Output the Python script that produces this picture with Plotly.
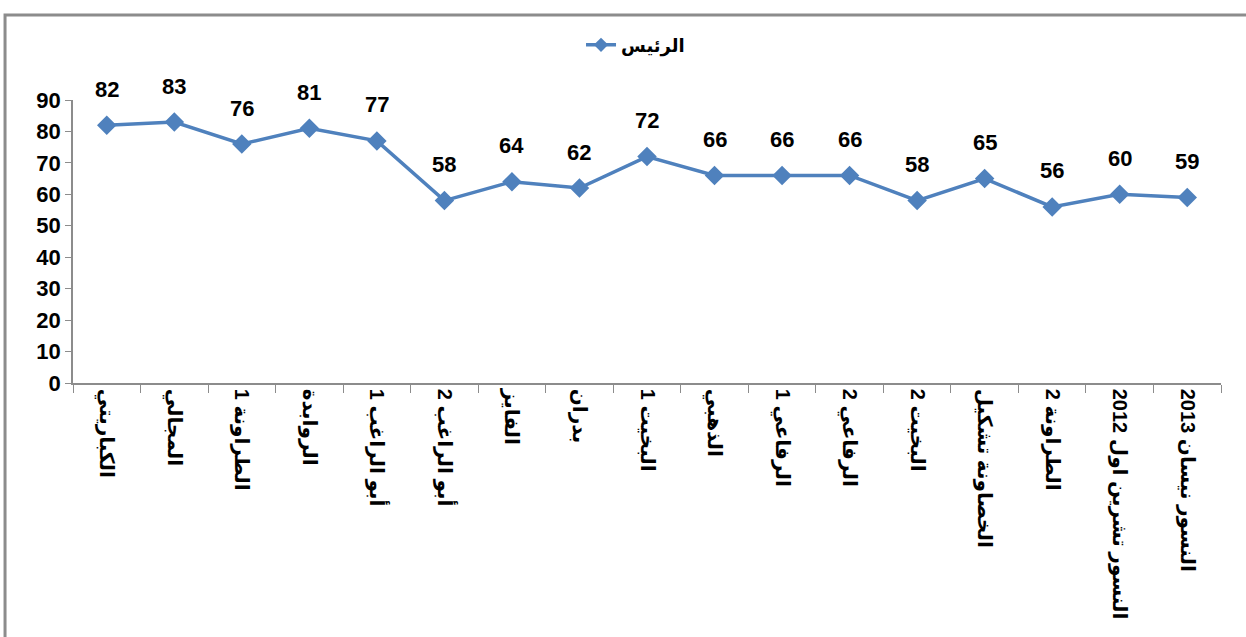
import plotly.graph_objects as go

categories = [
    "الكباريتي", "المجالي", "الطراونة 1", "الروابدة", "أبو الراغب 1",
    "أبو الراغب 2", "الفايز", "بدران", "البخيت 1", "الذهبي",
    "الرفاعي 1", "الرفاعي 2", "البخيت 2", "الخصاونة تشكيل", "الطراونة 2",
    "النسور تشرين اول 2012", "النسور نيسان 2013",
]
values = [82, 83, 76, 81, 77, 58, 64, 62, 72, 66, 66, 66, 58, 65, 56, 60, 59]
series_name = "الرئيس"
y_ticks = [0, 10, 20, 30, 40, 50, 60, 70, 80, 90]

FONT = "Liberation Sans, DejaVu Sans, Arial, sans-serif"
BLUE = "#4F81BD"

fig = go.Figure()
fig.add_trace(go.Scatter(
    x=categories, y=values, name=series_name,
    mode="lines+markers",
    line=dict(color=BLUE, width=3.5),
    marker=dict(symbol="diamond", size=15, color=BLUE),
    showlegend=False,
))
# legend entry (smaller symbol, like the reference)
fig.add_trace(go.Scatter(
    x=[None], y=[None], name=series_name,
    mode="lines+markers",
    line=dict(color=BLUE, width=3.5),
    marker=dict(symbol="diamond", size=11, color=BLUE),
))

for c, v in zip(categories, values):
    fig.add_annotation(x=c, y=v, text=str(v), showarrow=False, yshift=36,
                       font=dict(family=FONT, size=22, color="black", weight="bold"))

# outer frame
fig.add_shape(type="rect", xref="paper", yref="paper",
              x0=-0.0592, x1=1.03, y0=-0.95, y1=1.300,
              line=dict(color="#8c8c8c", width=3), fillcolor="rgba(0,0,0,0)")

fig.update_layout(
    width=1246, height=637,
    margin=dict(l=73, r=25, t=100, b=254),
    paper_bgcolor="white", plot_bgcolor="white",
    font=dict(family=FONT, size=18, color="black"),
    showlegend=True,
    legend=dict(x=0.49, y=1.194, xanchor="center", yanchor="middle",
                orientation="h", font=dict(size=18, weight="bold"),
                bgcolor="rgba(0,0,0,0)"),
    xaxis=dict(
        type="category", tickangle=90, tickson="boundaries",
        ticks="outside", ticklen=8, tickcolor="#8c8c8c",
        showline=True, linecolor="#8c8c8c", linewidth=1.5,
        showgrid=False, zeroline=False,
        tickfont=dict(family=FONT, size=20, weight="bold"),
        range=[-0.5, len(categories) - 0.5],
    ),
    yaxis=dict(
        range=[0, 90], tickvals=y_ticks,
        ticks="outside", ticklen=6, tickcolor="#8c8c8c",
        showline=True, linecolor="#8c8c8c", linewidth=1.5,
        showgrid=False, zeroline=False,
        tickfont=dict(family=FONT, size=22, weight="bold"),
    ),
)

fig.write_html("out.html", config={"displayModeBar": False},
               post_script="document.body.style.margin='0';")
